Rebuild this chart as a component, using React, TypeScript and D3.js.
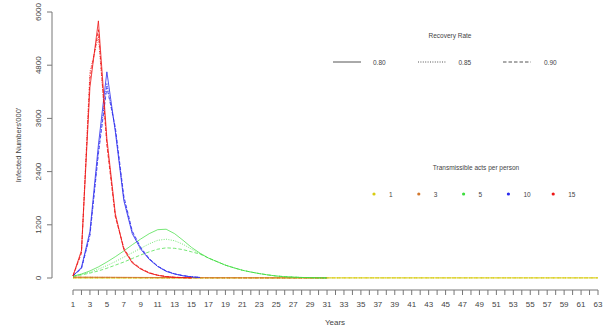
import React from "react";
import * as d3 from "d3";

// Years
const years63 = d3.range(1, 64);

// Transmissible acts per person legend
const actsLabels = ["1", "3", "5", "10", "15"];
const actsColors = ["#d8cc10", "#d2782e", "#3ddd3d", "#2a2aee", "#ee1515"];
const recoveryLabels = ["0.80", "0.85", "0.90"];
const recoveryDash = [null, "1,1.4", "3.5,2"];

// Y ticks
const yTicks = [0, 1200, 2400, 3600, 4800, 6000];

// Series values ('000) per year starting at year 1
const red080 = [50, 620, 4300, 5800, 3150, 1450, 640, 340, 200, 110, 60, 30, 15, 8, 4];
const red085 = [50, 580, 4650, 5450, 3050, 1400, 660, 350, 210, 115, 62, 32, 16, 8, 4];
const red090 = [50, 560, 4500, 5600, 3000, 1380, 680, 360, 215, 120, 65, 34, 17, 9, 4];

const blue080 = [50, 240, 1050, 3000, 4650, 3300, 1750, 1000, 650, 420, 260, 150, 90, 50, 25, 12];
const blue085 = [50, 220, 980, 2850, 4400, 3350, 1800, 1030, 670, 430, 265, 155, 92, 52, 26, 12];
const blue090 = [50, 210, 960, 2800, 4300, 3400, 1850, 1060, 690, 440, 270, 160, 95, 54, 27, 13];

const green080 = [40, 90, 160, 250, 360, 480, 610, 750, 880, 1000, 1090, 1100, 1000, 850, 690, 560, 450, 370, 290, 230, 175, 135, 100, 70, 45, 30, 20, 12, 8, 4, 2];
const green085 = [40, 80, 130, 200, 280, 370, 470, 570, 670, 770, 850, 875, 840, 760, 650, 550, 450, 370, 290, 230, 175, 135, 100, 70, 45, 30, 20, 12, 8, 4, 2];
const green090 = [40, 70, 110, 160, 220, 290, 360, 440, 520, 590, 650, 680, 670, 640, 590, 540, 450, 370, 290, 230, 175, 135, 100, 70, 45, 30, 20, 12, 8, 4, 2];

const orange080 = [20, 18, 18, 17, 17, 16, 15, 14, 13, 12, 11, 10, 10, 9, 8, 8, 7, 7, 6, 6, 5, 5, 5, 4, 4, 4, 3, 3, 3, 3, 2];
const orange085 = [20, 17, 16, 15, 14, 13, 12, 11, 10, 10, 9, 8, 8, 7, 7, 6, 6, 5, 5, 5, 4, 4, 4, 3, 3, 3, 3, 2, 2, 2, 2];
const orange090 = [20, 16, 14, 13, 12, 11, 10, 9, 8, 8, 7, 7, 6, 6, 5, 5, 5, 4, 4, 4, 3, 3, 3, 3, 2, 2, 2, 2, 2, 2, 2];

const yellow080 = years63.map(() => 3);
const yellow085 = years63.map(() => 3);
const yellow090 = years63.map(() => 3);

const seriesByActs = [
  [yellow080, yellow085, yellow090],
  [orange080, orange085, orange090],
  [green080, green085, green090],
  [blue080, blue085, blue090],
  [red080, red085, red090],
];

export default function App() {
  const W = 605, H = 328;
  const x = d3.scaleLinear().domain([1, 63]).range([73, 598]);
  const y = d3.scaleLinear().domain([0, 6000]).range([278, 12]);
  const line = d3.line<number>().x((_, i) => x(i + 1)).y((d) => y(d));
  const font = "'Liberation Sans', Arial, sans-serif";

  return (
    <svg width={W} height={H} style={{ position: "absolute", left: 0, top: 0, background: "#fff" }} fontFamily={font}>
      {[0, 1, 2, 3, 4].map((ai) =>
        seriesByActs[ai].map((vals, ri) => (
          <path
            key={`s${ai}-${ri}`}
            d={line(vals) || ""}
            fill="none"
            stroke={actsColors[ai]}
            strokeWidth={1}
            strokeOpacity={ai === 2 ? 0.7 : 0.8}
            strokeDasharray={recoveryDash[ri] || undefined}
          />
        ))
      )}

      {/* y axis */}
      <line x1={52} x2={52} y1={y(0)} y2={y(6000)} stroke="#777" strokeWidth={1} />
      {yTicks.map((t) => (
        <g key={`yt${t}`}>
          <line x1={47} x2={52} y1={y(t)} y2={y(t)} stroke="#777" />
          <text
            transform={`translate(${41},${y(t)}) rotate(-90)`}
            textAnchor="middle"
            fontSize={8}
            fill="#444"
          >
            {t}
          </text>
        </g>
      ))}
      <text transform="translate(21,145) rotate(-90)" textAnchor="middle" fontSize={7.5} fill="#444">
        Infected Numbers'000'
      </text>

      {/* x axis */}
      <line x1={x(1)} x2={x(63)} y1={290} y2={290} stroke="#777" />
      {years63.map((yr) => (
        <line key={`xt${yr}`} x1={x(yr)} x2={x(yr)} y1={290} y2={295} stroke="#777" />
      ))}
      {years63.filter((yr) => yr % 2 === 1).map((yr) => (
        <text key={`xl${yr}`} x={x(yr)} y={307} textAnchor="middle" fontSize={8} fill="#444">
          {yr}
        </text>
      ))}
      <text x={335} y={325} textAnchor="middle" fontSize={8} fill="#444">Years</text>

      {/* Recovery legend */}
      <text x={450} y={38} textAnchor="middle" fontSize={6.5} fill="#444">Recovery Rate</text>
      {recoveryLabels.map((lab, i) => (
        <g key={`rl${i}`}>
          <line x1={333 + i * 85} x2={361 + i * 85} y1={62} y2={62} stroke="#555" strokeWidth={1}
            strokeDasharray={recoveryDash[i] || undefined} />
          <text x={373 + i * 85.5} y={64.5} fontSize={6.5} fill="#444">{lab}</text>
        </g>
      ))}

      {/* Acts legend */}
      <text x={476} y={170} textAnchor="middle" fontSize={6.5} fill="#444">Transmissible acts per person</text>
      {actsLabels.map((lab, i) => (
        <g key={`al${i}`}>
          <circle cx={374 + i * 44.8} cy={194} r={1.6} fill={actsColors[i]} />
          <text x={389 + i * 44.8} y={196.5} fontSize={6.5} fill="#444">{lab}</text>
        </g>
      ))}
    </svg>
  );
}
